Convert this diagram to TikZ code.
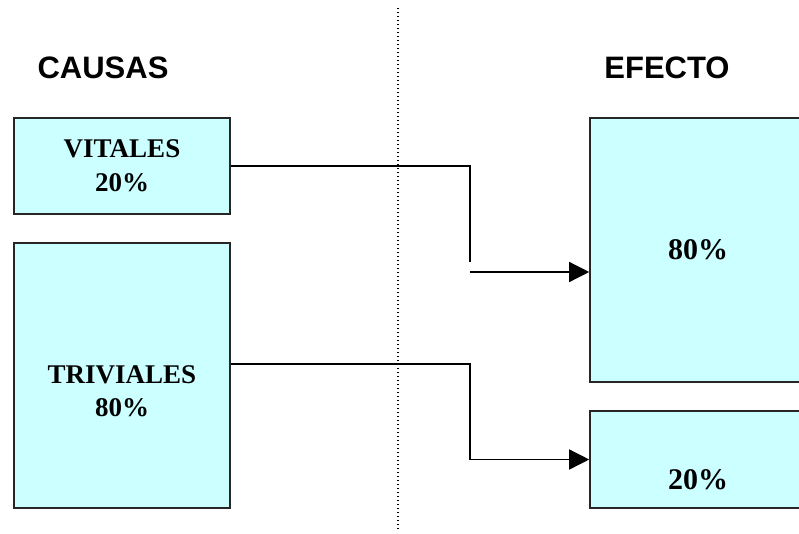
\documentclass[tikz,border=0pt]{standalone}
\usepackage{fontspec}
\setmainfont{Liberation Serif}
\newfontfamily\headfont{Liberation Sans}
\usetikzlibrary{arrows.meta, positioning}
\definecolor{boxfill}{HTML}{CCFFFF}

\begin{document}
\begin{tikzpicture}[
    x=1pt, y=-1pt,
    box/.style={
        draw=black!85, line width=1.6pt, rectangle,
        fill=boxfill, minimum width=216pt, align=center,
        font=\fontsize{27}{34}\selectfont\bfseries
    },
    bigbox/.style={
        box, font=\fontsize{30}{36}\selectfont\bfseries
    },
    head/.style={
        font=\headfont\fontsize{31}{36}\selectfont\bfseries
    },
    link/.style={line width=1.4pt},
    arr/.style={link, -{Triangle[length=20pt, width=20pt]}},
    divider/.style={black, line width=1.1pt, dash pattern=on 1.4pt off 2.6pt}
]
\useasboundingbox (0,0) rectangle (799,533);

% dividing line
\coordinate (divtop) at (398,8);
\coordinate (divbot) at (398,531);
\draw[divider] (divtop) -- (divbot);

\node[head] (causas) at (103,68) {CAUSAS};
\node[head] (efecto) at (667,68) {EFECTO};

% causes
\node[box, minimum height=96pt]  (vital) at (122,166) {VITALES\\20\%};
\node[box, minimum height=265pt,
      label={[font=\fontsize{27}{33}\selectfont\bfseries, align=center, yshift=-16pt]center:TRIVIALES\\80\%}]
      (trivial) at (122,375.5) {};

% effects
\node[bigbox, minimum height=264pt] (eff80) at (698,250) {80\%};
\node[bigbox, minimum height=97pt,
      label={[font=\fontsize{30}{36}\selectfont\bfseries, yshift=-20pt]center:20\%}]
      (eff20) at (698,459.5) {};

\coordinate (bendA) at (470,262);
\coordinate (startA) at (470,272);
\coordinate (bendB) at (470,459.5);

\draw[link] (vital.east) -| (bendA);
\draw[arr] (startA) -- (startA -| eff80.west);
\draw[arr] ([yshift=11.5pt]trivial.east) -| (bendB) -- (eff20.west);

\end{tikzpicture}
\end{document}
